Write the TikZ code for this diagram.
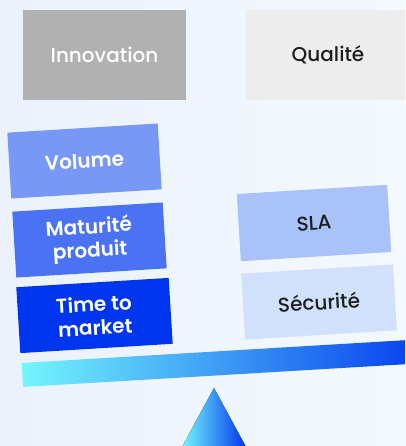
\documentclass[tikz,border=0pt]{standalone}
\usepackage{fontspec}
\setmainfont{Poppins}[UprightFont=* Medium, BoldFont=* SemiBold]
\usetikzlibrary{positioning}
\definecolor{bgleft}{HTML}{EBF2FC}
\definecolor{bgright}{HTML}{F4F9FE}
\definecolor{grisbox}{HTML}{B1B1B1}
\definecolor{clairbox}{HTML}{EDEDED}
\definecolor{bleuA}{HTML}{7799F5}
\definecolor{bleuB}{HTML}{4B72F2}
\definecolor{bleuC}{HTML}{0035EE}
\definecolor{bleuD}{HTML}{A9C2F9}
\definecolor{bleuE}{HTML}{D1E0FB}
\definecolor{cyanbeam}{HTML}{74F6FC}
\definecolor{texte}{HTML}{1E1E1E}
\tikzstyle{bloc} = [rectangle, minimum width=113pt, minimum height=49.5pt,
    align=center, inner sep=0pt, font=\fontsize{15}{17.5}\selectfont]
\tikzstyle{tilted} = [bloc, rotate=3.5]
\tikzstyle{lourd} = [text=white, font=\fontsize{15}{17.5}\selectfont\bfseries]
\tikzstyle{sombre} = [text=texte]
\begin{document}
\begin{tikzpicture}[x=0.75pt, y=-0.75pt]
  % Frame
  \useasboundingbox (0,0) rectangle (405,446);
  \clip (0,0) rectangle (405,446);
  \fill [left color=bgleft, right color=bgright] (0,0) rectangle (405,446);

  % Top boxes
  \node [bloc, fill=grisbox, text=white, minimum width=122pt, minimum height=67.5pt]
    (innov) at (104.5,55) {Innovation};
  \node [bloc, fill=clairbox, sombre, minimum width=123pt, minimum height=67.5pt]
    (qual) at (328,55) {Qualité};

  % Left pan
  \node [tilted, fill=bleuA, lourd] (volume) at (84.5,161) {Volume};
  \node [tilted, fill=bleuB, lourd] (matur) at (89.5,240) {Maturité\\produit};
  \node [tilted, fill=bleuC, lourd, minimum width=114.5pt] (ttm) at (94.5,315.5) {Time to\\market};

  % Right pan
  \node [tilted, fill=bleuD, sombre, minimum height=50.5pt] (sla) at (314,223) {SLA};
  \node [tilted, fill=bleuE, sombre, minimum width=114pt] (secu) at (319,302) {Sécurité};

  % Beam and pivot
  \node [rectangle, minimum width=315pt, minimum height=18pt, inner sep=0pt,
    rotate=3.4, left color=cyanbeam, right color=bleuC] (beam) at (232,362.5) {};
  \fill [left color=cyanbeam, right color=bleuC]
    (214,388) -- (246,447) -- (182,447) -- cycle;
\end{tikzpicture}
\end{document}
